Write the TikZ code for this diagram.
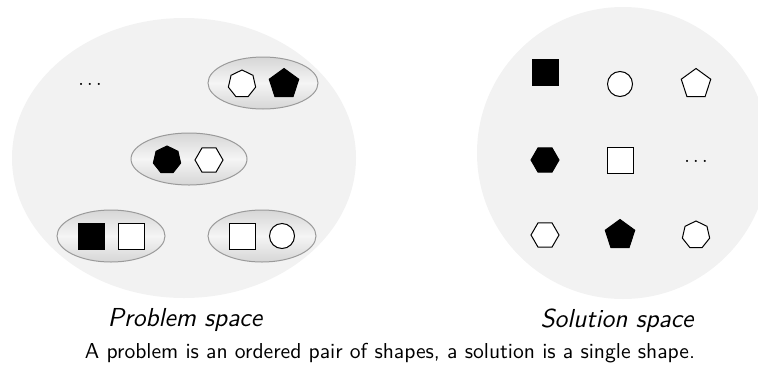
\documentclass[tikz,border=0pt]{standalone}
\usepackage{tikz}
\usetikzlibrary{shapes.geometric}
\definecolor{spacefill}{HTML}{F2F2F2}
\definecolor{pairedge}{HTML}{9A9A9A}
\definecolor{pairdark}{HTML}{D6D6D6}

\tikzset{
	space/.style={ellipse, fill=spacefill, inner sep=0pt},
	pairbox/.style={ellipse, draw=pairedge, line width=0.5pt, inner sep=0pt,
		top color=pairdark, bottom color=pairdark, middle color=white!96!black,
		minimum width=110pt*0.5, minimum height=52pt*0.5},
	figure/.style={draw=black, line width=0.5pt, inner sep=0pt},
	sq/.style={figure, rectangle, minimum size=13pt},
	circ/.style={figure, circle, minimum size=12.5pt},
	pent/.style={figure, regular polygon, regular polygon sides=5, minimum size=15.5pt},
	hexa/.style={figure, regular polygon, regular polygon sides=6, minimum size=14pt},
	hepta/.style={figure, regular polygon, regular polygon sides=7, minimum size=14pt},
	full/.style={fill=black},
	hollow/.style={fill=white},
	more/.style={anchor=base, font=\fontsize{10}{12}\selectfont},
	spacelabel/.style={font=\sffamily\fontsize{13}{15}\selectfont\itshape},
}

\begin{document}
\begin{tikzpicture}[x=0.5pt, y=-0.5pt]

	\useasboundingbox (0,0) rectangle (758,370);
	\clip (0,0) rectangle (758,370);

	% the two spaces
	\node[space, minimum width=172pt, minimum height=140pt] (problems) at (184,158) {};
	\node[space, circle, minimum size=146pt] (solutions) at (623,153) {};

	% problem space: ordered pairs
	\node[pairbox] (pairA) at (263,83) {};
	\node[pairbox, minimum width=58pt] (pairB) at (189,159) {};
	\node[pairbox, minimum width=54pt] (pairC) at (111,236) {};
	\node[pairbox, minimum width=54pt] (pairD) at (262,236) {};

	\node[hepta, hollow] (pairAfirst) at (242,84) {};
	\node[pent, full] (pairAsecond) at (284,84) {};
	\node[hepta, full] (pairBfirst) at (167,160) {};
	\node[hexa, hollow] (pairBsecond) at (209,160) {};
	\node[sq, full] (pairCfirst) at (91,236) {};
	\node[sq, hollow] (pairCsecond) at (131,236) {};
	\node[sq, hollow] (pairDfirst) at (242,236) {};
	\node[circ, hollow] (pairDsecond) at (282,236) {};

	\node[more] (moreproblems) at (90,85) {$\ldots$};

	% solution space: single shapes
	\node[sq, full] (solA) at (545,72) {};
	\node[circ, hollow] (solB) at (620,84) {};
	\node[pent, hollow] (solC) at (696,84) {};
	\node[hexa, full] (solD) at (545,160) {};
	\node[sq, hollow] (solE) at (620,160) {};
	\node[more] (moresolutions) at (696,162) {$\ldots$};
	\node[hexa, hollow] (solF) at (545,235) {};
	\node[pent, full] (solG) at (620,235) {};
	\node[hepta, hollow] (solH) at (696,235) {};

	% labels
	\node[spacelabel] (problemlabel) at (185,320) {Problem space};
	\node[spacelabel] (solutionlabel) at (617,321) {Solution space};
	\node[font=\sffamily\fontsize{10.8}{13}\selectfont] (caption) at (390,353) {A problem is an ordered pair of shapes, a solution is a single shape.};

\end{tikzpicture}
\end{document}
